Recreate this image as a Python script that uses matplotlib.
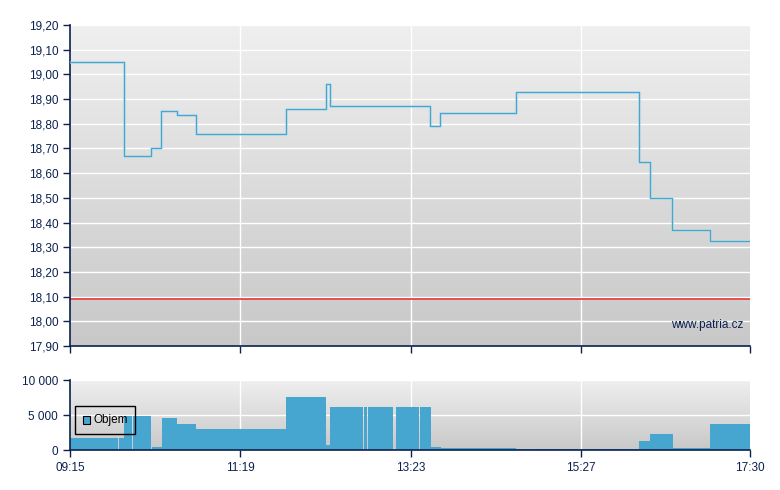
#!/usr/bin/env python3
"""Intraday price step chart with volume panel (patria.cz style)."""

import numpy as np
import matplotlib.pyplot as plt
from matplotlib.colors import LinearSegmentedColormap
from matplotlib.patches import Rectangle

plt.rcParams["font.family"] = ["Liberation Sans", "DejaVu Sans"]

# price steps (time of change -> price), last point closes the session
price_times = ["09:15", "09:54", "10:14", "10:21", "10:33", "10:47", "11:52", "12:21",
               "12:24", "13:37", "13:44", "14:40", "16:09", "16:17", "16:33", "17:01", "17:30"]
prices = [19.05, 18.67, 18.70, 18.85, 18.835, 18.76, 18.86, 18.96,
          18.87, 18.79, 18.845, 18.93, 18.645, 18.50, 18.37, 18.325, 18.325]
ref_price = 18.09

# volume bars: start, end, volume
vol_start = ["09:15", "09:51", "09:54", "10:01", "10:15", "10:22", "10:33", "10:47",
             "11:52", "12:21", "12:24", "12:49", "12:52", "13:12", "13:30", "13:38",
             "13:45", "14:40", "14:43", "14:49", "16:09", "16:17", "16:34", "17:01"]
vol_end = ["09:50", "09:54", "10:00", "10:14", "10:22", "10:33", "10:47", "11:52",
           "12:21", "12:24", "12:48", "12:51", "13:10", "13:29", "13:38", "13:45",
           "14:40", "14:43", "14:48", "16:09", "16:17", "16:34", "17:01", "17:30"]
volumes = [1700, 1700, 4850, 4850, 500, 4570, 3710, 3000,
           7570, 700, 6140, 6140, 6140, 6140, 6140, 430,
           290, 200, 150, 100, 1330, 2290, 290, 3710]

tick_times = ["09:15", "11:19", "13:23", "15:27", "17:30"]


def to_min(t):
    h, m = t.split(":")
    return int(h) * 60 + int(m)


pt = np.array([to_min(t) for t in price_times])
vs = np.array([to_min(t) for t in vol_start])
ve = np.array([to_min(t) for t in vol_end])
tt = [to_min(t) for t in tick_times]

navy = "#0c2150"
blue = "#46a6cf"
bg = LinearSegmentedColormap.from_list("bg", ["#c8c8c8", "#efefef"])
grad = np.linspace(0, 1, 256).reshape(-1, 1)

fig = plt.figure(figsize=(7.8, 4.9), dpi=100)
ax = fig.add_axes([70 / 780, 1 - 346 / 490, 680 / 780, 321 / 490])
axv = fig.add_axes([70 / 780, 1 - 450 / 490, 680 / 780, 70 / 490])

for a in (ax, axv):
    a.imshow(grad, extent=[0, 1, 0, 1], transform=a.transAxes, aspect="auto",
             cmap=bg, origin="lower", zorder=0)
    a.set_xlim(tt[0], tt[-1])
    a.set_xticks(tt)
    for t in tt[1:-1]:
        a.axvline(t, color="white", lw=1, zorder=1)
    for s in ("top", "right"):
        a.spines[s].set_visible(False)
    for s in ("left", "bottom"):
        a.spines[s].set_color(navy)
        a.spines[s].set_linewidth(1.2)
    a.tick_params(colors=navy, labelcolor=navy, labelsize=8.5, length=5, width=1)

# price panel
ax.set_ylim(17.90, 19.20)
yt = np.round(np.arange(17.90, 19.201, 0.10), 2)
ax.set_yticks(yt)
ax.set_yticklabels([f"{v:.2f}".replace(".", ",") for v in yt])
for v in yt[1:]:
    ax.axhline(v, color="white", lw=1, zorder=1)
ax.set_xticklabels([])
ax.axhline(ref_price, color="#ee2a2a", lw=1.1, zorder=2)
ax.step(pt, prices, where="post", color="#b4dbeb", lw=2.2, alpha=0.5, zorder=3)
ax.step(pt, prices, where="post", color=blue, lw=0.9, zorder=4)
ax.text(0.99, 0.065, "www.patria.cz", transform=ax.transAxes, ha="right", va="center",
        color=navy, fontsize=8.5, zorder=5)

# volume panel
axv.set_ylim(0, 10000)
axv.set_yticks([0, 5000, 10000])
axv.set_yticklabels(["0", "5 000", "10 000"])
axv.axhline(5000, color="white", lw=1, zorder=1)
axv.axhline(10000, color="white", lw=1, zorder=1)
axv.bar(vs, volumes, width=ve - vs, align="edge", color=blue, lw=0, zorder=2)
axv.set_xticklabels(tick_times)

# legend box
axv.add_patch(Rectangle((0.007, 0.23), 0.089, 0.4, transform=axv.transAxes,
                        fill=False, ec="black", lw=1, zorder=5))
axv.add_patch(Rectangle((0.019, 0.37), 0.011, 0.12, transform=axv.transAxes,
                        fc=blue, ec="black", lw=0.8, zorder=6))
axv.text(0.035, 0.43, "Objem", transform=axv.transAxes, va="center", ha="left",
         fontsize=8.5, color="black", zorder=6)

fig.savefig("out.png", dpi=100)
